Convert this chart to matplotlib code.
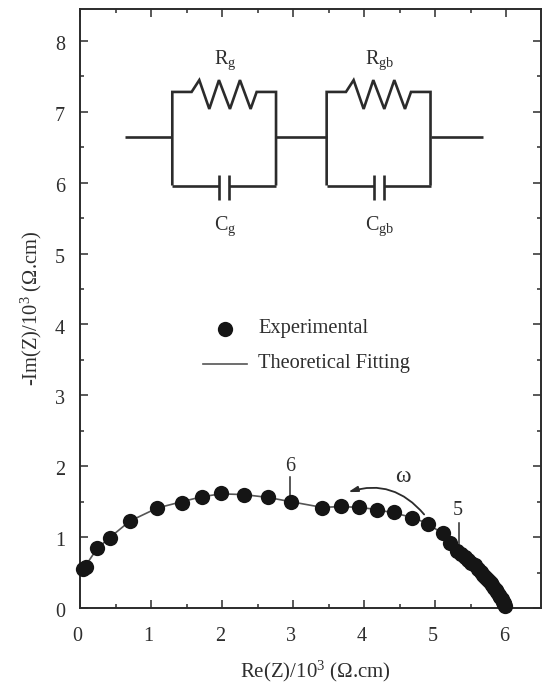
import numpy as np
import matplotlib
matplotlib.use('Agg')
from matplotlib import pyplot as plt
from matplotlib.ticker import MultipleLocator
from matplotlib.transforms import ScaledTranslation

plt.rcParams['font.family'] = ['Liberation Serif', 'DejaVu Serif']
plt.rcParams['mathtext.default'] = 'regular'

# measured points
re_z = [0.04, 0.08, 0.235, 0.42, 0.695, 1.08, 1.43, 1.71, 1.98, 2.30, 2.64, 2.96, 3.40, 3.67,
        3.92, 4.17, 4.41, 4.67, 4.89, 5.10, 5.21, 5.30, 5.36, 5.41, 5.46, 5.50, 5.55, 5.60,
        5.64, 5.67, 5.70, 5.73, 5.76, 5.78, 5.80, 5.83, 5.85, 5.87, 5.89, 5.91, 5.93, 5.95,
        5.96, 5.97, 5.98]
im_z = [0.55, 0.58, 0.84, 0.99, 1.226, 1.415, 1.486, 1.57, 1.618, 1.60, 1.57, 1.495, 1.415, 1.44,
        1.43, 1.377, 1.354, 1.274, 1.18, 1.06, 0.91, 0.80, 0.76, 0.72, 0.68, 0.64, 0.60, 0.55,
        0.51, 0.47, 0.44, 0.41, 0.38, 0.35, 0.32, 0.28, 0.25, 0.22, 0.19, 0.16, 0.12, 0.09,
        0.07, 0.05, 0.03]

# fitted curve
fit_re = [0.04, 0.235, 0.42, 0.695, 1.08, 1.43, 1.71, 1.98, 2.30, 2.64, 2.96, 3.40, 3.67,
          3.92, 4.17, 4.41, 4.67, 4.89, 5.10, 5.30, 5.50, 5.76, 5.95, 5.98]
fit_im = [0.55, 0.84, 1.0, 1.226, 1.41, 1.50, 1.57, 1.61, 1.60, 1.56, 1.50, 1.42, 1.43,
          1.42, 1.39, 1.34, 1.28, 1.19, 1.05, 0.82, 0.64, 0.38, 0.09, 0.03]

x_ticks = [0, 1, 2, 3, 4, 5, 6]
y_ticks = [0, 1, 2, 3, 4, 5, 6, 7, 8]

ink = '#2b2b2b'
text_c = '#2e2e2e'

fig = plt.figure(figsize=(5.42, 6.85), dpi=100)
ax = fig.add_axes([80.5 / 542, 1 - 608 / 685, 460.5 / 542, 599 / 685])

ax.plot(fit_re, fit_im, color='#555555', lw=1.2, zorder=2)
ax.plot(re_z, im_z, 'o', color='#151515', ms=11, mew=0, zorder=3, clip_on=False)

ax.set_xlim(0, 6.486)
ax.set_ylim(0, 8.45)
ax.set_xticks(x_ticks)
ax.set_yticks(y_ticks)
ax.xaxis.set_minor_locator(MultipleLocator(0.5))
ax.yaxis.set_minor_locator(MultipleLocator(0.5))
ax.tick_params(which='major', direction='in', length=6, width=1.1, color=ink,
               top=True, right=True, labelsize=14.5, labelcolor=text_c)
ax.tick_params(which='minor', direction='in', length=3, width=1.1, color=ink, top=True, right=True)
ax.tick_params(axis='x', which='major', pad=13.5)
ax.tick_params(axis='y', which='major', pad=11)
for s in ax.spines.values():
    s.set_linewidth(1.4)
    s.set_color(ink)

# the labels sit slightly off their ticks in the original
for lab in ax.get_xticklabels():
    lab.set_transform(lab.get_transform() + ScaledTranslation(-2 / 72, 0, fig.dpi_scale_trans))
for lab in ax.get_yticklabels():
    lab.set_transform(lab.get_transform() + ScaledTranslation(0, -1.5 / 72, fig.dpi_scale_trans))

ax.set_xlabel('Re(Z)/10$^{3}$ (Ω.cm)', fontsize=15, color=text_c, labelpad=9.5, x=0.51)
ax.set_ylabel('-Im(Z)/10$^{3}$ (Ω.cm)', fontsize=14.8, color=text_c, labelpad=8)

# annotations on the curve
ax.plot([2.95, 2.95], [1.55, 1.85], color=ink, lw=1.1)
ax.text(2.95, 1.99, '6', ha='center', va='center', fontsize=14.5, color=text_c)
ax.plot([5.33, 5.33], [0.9, 1.2], color=ink, lw=1.1)
ax.text(5.31, 1.38, '5', ha='center', va='center', fontsize=14.5, color=text_c)
ax.annotate('', xy=(3.77, 1.635), xytext=(4.84, 1.32),
            arrowprops=dict(arrowstyle='-|>,head_length=0.55,head_width=0.16', color=ink, lw=1.3,
                            connectionstyle='arc3,rad=0.33', shrinkA=0, shrinkB=0))
ax.text(4.54, 1.85, 'ω', ha='center', va='center', fontsize=17, color=text_c)

# legend drawn by hand like the original
ax.plot([2.035], [3.93], 'o', color='#151515', ms=11, mew=0)
ax.text(2.505, 3.94, 'Experimental', fontsize=14.8, va='center', color=text_c)
ax.plot([1.725, 2.35], [3.437, 3.437], color='#555555', lw=1.2)
ax.text(2.505, 3.45, 'Theoretical Fitting', fontsize=14.7, va='center', color=text_c)

# equivalent circuit, in axes data units
lw = 1.9
res_dx = [0.272, 0.38, 0.521, 0.657, 0.812, 0.953, 1.103, 1.188]
res_y = [7.28, 7.447, 7.04, 7.447, 7.04, 7.447, 7.04, 7.28]


def w(xs, ys):
    ax.plot(xs, ys, color=ink, lw=lw, solid_joinstyle='miter', solid_capstyle='butt')


def block(x0, x1, name):
    w([x0, x0] + [x0 + d for d in res_dx] + [x1, x1], [5.96, 7.28] + res_y + [7.28, 5.96])
    w([x0, x0 + 0.662], [5.96, 5.96])
    w([x0 + 0.803, x1], [5.96, 5.96])
    for d in (0.662, 0.803):
        w([x0 + d, x0 + d], [5.76, 6.105])
    ax.text(x0 + 0.74, 7.72, 'R$_{%s}$' % name, ha='center', va='center', fontsize=14.5, color=text_c)
    ax.text(x0 + 0.74, 5.39, 'C$_{%s}$' % name, ha='center', va='center', fontsize=14.5, color=text_c)


block(1.293, 2.754, 'g')
block(3.467, 4.93, 'gb')
w([0.627, 1.293], [6.64, 6.64])
w([2.754, 3.467], [6.64, 6.64])
w([4.93, 5.67], [6.64, 6.64])

plt.savefig('out.png', dpi=100)
